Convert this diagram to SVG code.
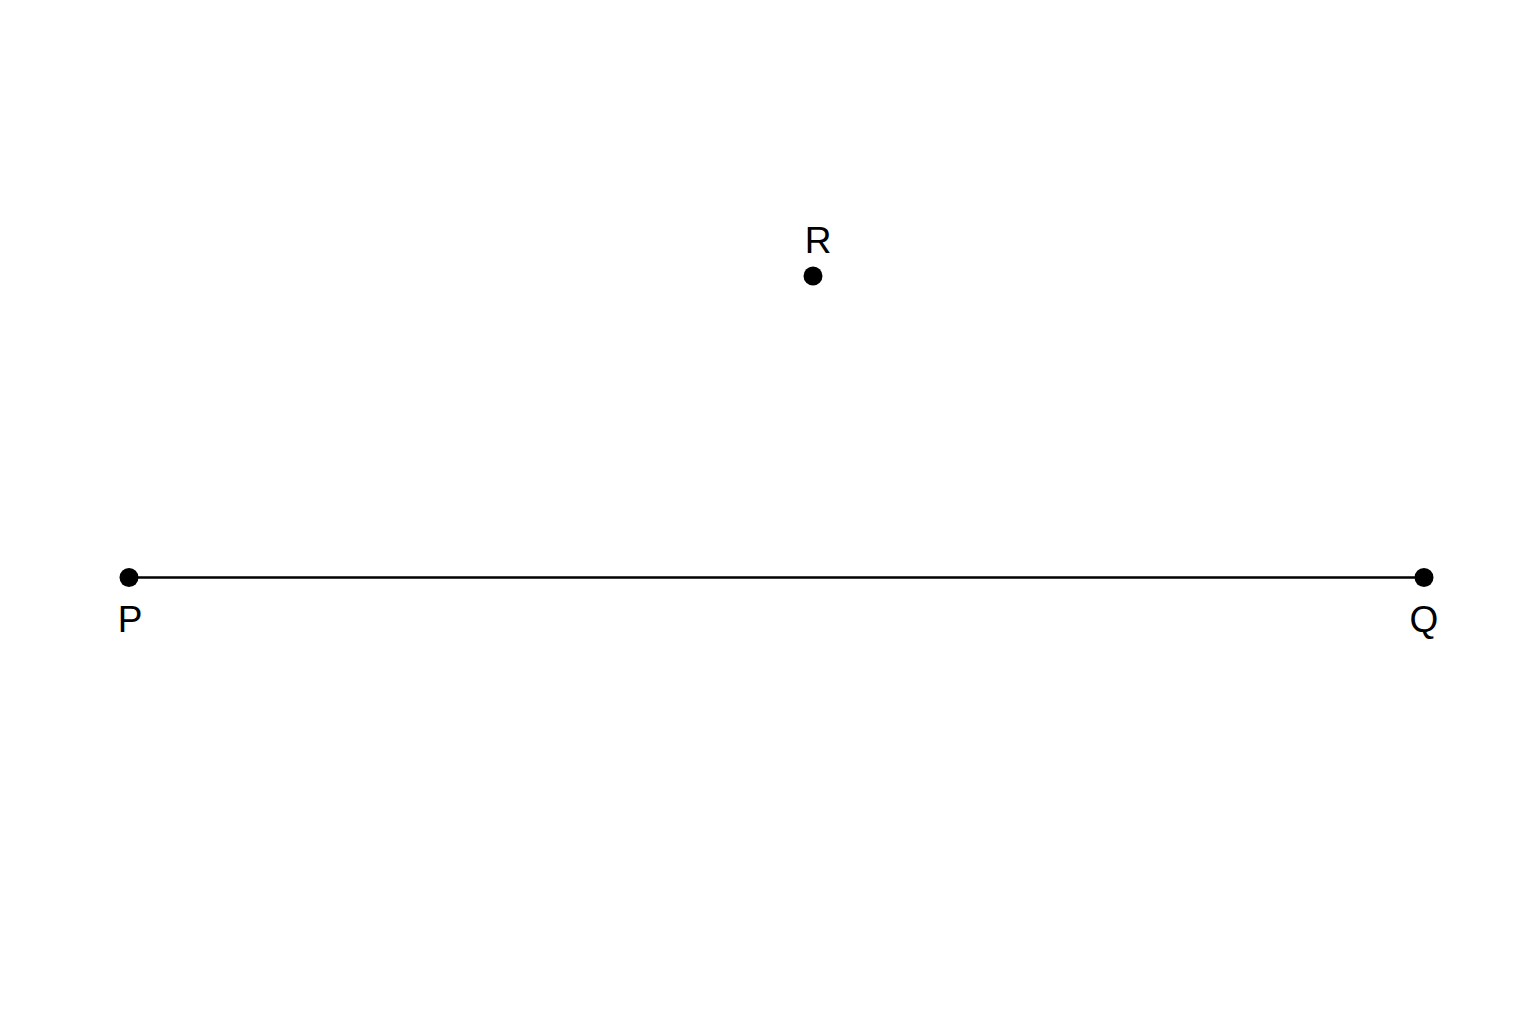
<svg xmlns="http://www.w3.org/2000/svg" width="1536" height="1024" viewBox="0 0 1536 1024">
<style>
.pt{fill:#000}
.lbl{font-family:"Liberation Sans",Arial,sans-serif;font-size:37px;fill:#000;text-anchor:middle}
.seg{stroke:#000;stroke-width:2.5;fill:none}
</style>
<rect width="1536" height="1024" fill="#fff"/>
<g id="connectors">
<line class="seg" x1="129" y1="577.5" x2="1424" y2="577.5"/>
</g>
<g id="P">
<circle class="pt" cx="129" cy="577.5" r="9.5"/>
<text class="lbl" x="130" y="632">P</text>
</g>
<g id="Q">
<circle class="pt" cx="1424" cy="577.5" r="9.5"/>
<text class="lbl" x="1424" y="632">Q</text>
</g>
<g id="R">
<circle class="pt" cx="813" cy="276" r="9.5"/>
<text class="lbl" x="818" y="253">R</text>
</g>
</svg>
